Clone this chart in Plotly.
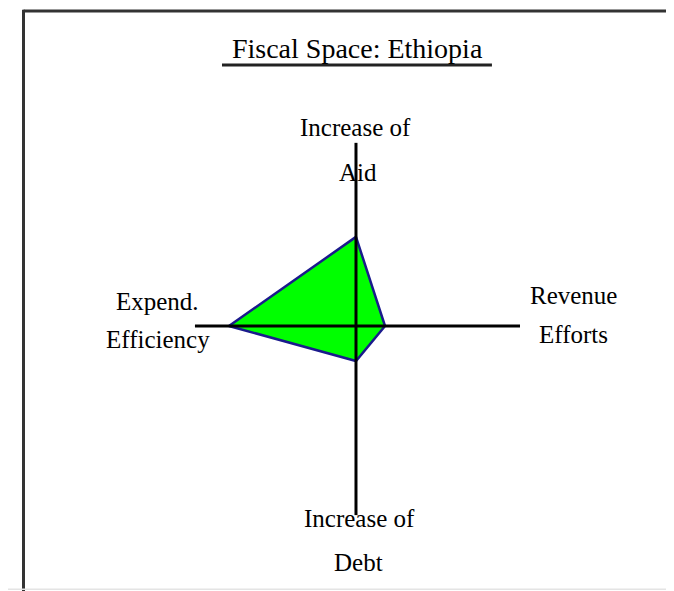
import plotly.graph_objects as go

# Fiscal space diamond: one value per direction (drawing units from the centre)
directions = ["Increase of Aid", "Revenue Efforts", "Increase of Debt", "Expend. Efficiency"]
label_lines = [("Increase of", "Aid"), ("Revenue", "Efforts"), ("Increase of", "Debt"), ("Expend.", "Efficiency")]
values = [2.7, 0.88, 1.06, 3.85]          # up, right, down, left
axis_extent = [5.55, 4.97, 5.73, 4.88]    # length of each arm of the cross

title = "Fiscal Space: Ethiopia"
font_family = "Liberation Serif, Times New Roman, serif"

# Unit vectors for the four arms: up, right, down, left
dirs = [(0, 1), (1, 0), (0, -1), (-1, 0)]

fig = go.Figure()

# Polygon
px = [dx * v for (dx, dy), v in zip(dirs, values)]
py = [dy * v for (dx, dy), v in zip(dirs, values)]
fig.add_trace(go.Scatter(
    x=px + px[:1], y=py + py[:1],
    mode="lines", fill="toself", fillcolor="#00ff00",
    line=dict(color="#1a1a8c", width=2.5),
    hoverinfo="skip", showlegend=False
))

# Cross axes (on top of the fill)
for (dx, dy), ext in zip(dirs, axis_extent):
    fig.add_trace(go.Scatter(
        x=[0, dx * ext], y=[0, dy * ext],
        mode="lines", line=dict(color="black", width=3),
        hoverinfo="skip", showlegend=False
    ))

# Arm labels, two lines each, widely spaced
label_pos = [
    [(0.0, 6.0), (0.06, 4.64)],
    [(6.6, 0.91), (6.58, -0.27)],
    [(0.12, -5.82), (0.09, -7.18)],
    [(-6.03, 0.73), (-6.0, -0.42)],
]
for lines, positions in zip(label_lines, label_pos):
    for text, (lx, ly) in zip(lines, positions):
        fig.add_annotation(
            x=lx, y=ly, text=text, showarrow=False,
            xanchor="center", yanchor="middle",
            font=dict(family=font_family, size=25, color="black")
        )

fig.update_layout(
    width=674,
    height=591,
    margin=dict(l=0, r=0, t=0, b=0),
    paper_bgcolor="white",
    plot_bgcolor="white",
    xaxis=dict(range=[-10.545, 9.879], visible=False, fixedrange=True),
    yaxis=dict(range=[-8.273, 9.636], visible=False, fixedrange=True),
    title=dict(
        text=title, x=0.518, xanchor="center", y=0.932, yanchor="middle",
        font=dict(family=font_family, size=28, color="black")
    ),
    shapes=[
        # frame (top and left edges visible)
        dict(type="line", xref="paper", yref="paper", x0=0.023, x1=1.02, y0=0.995, y1=0.995,
             line=dict(color="#333333", width=3)),
        dict(type="line", xref="paper", yref="paper", x0=0.023, x1=0.023, y0=-0.02, y1=0.997,
             line=dict(color="#333333", width=3)),
        dict(type="line", xref="paper", yref="paper", x0=0.0, x1=1.0, y0=0.0165, y1=0.0165,
             line=dict(color="#e4e4e4", width=1.5)),
        # title underline
        dict(type="line", xref="paper", yref="paper", x0=0.3175, x1=0.718, y0=0.9036, y1=0.9036,
             line=dict(color="#222222", width=3)),
    ],
)

fig.write_html("out.html")
